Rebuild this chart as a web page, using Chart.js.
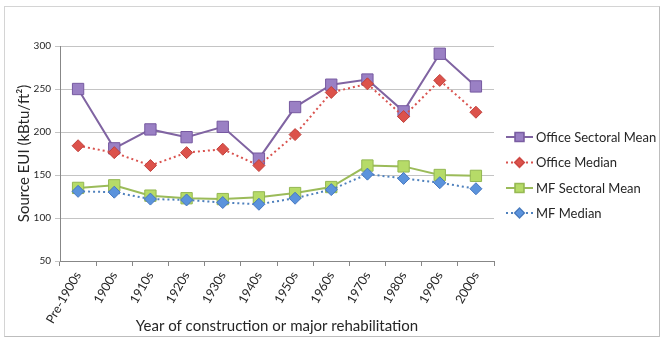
<!DOCTYPE html>
<html>
<head>
<meta charset="utf-8">
<script src="https://cdn.jsdelivr.net/npm/chart.js@4.4.1/dist/chart.umd.min.js"></script>
<style>
  html, body { margin: 0; background: #fff; }
  #wrap { width: 666px; height: 345px; }
</style>
</head>
<body>
<div id="wrap"><canvas id="eui"></canvas></div>
<script>
const decades = ['Pre-1900s', '1900s', '1910s', '1920s', '1930s', '1940s', '1950s', '1960s', '1970s', '1980s', '1990s', '2000s'];
const officeMean = [250, 181, 203, 194, 206, 169, 229, 255, 261, 224, 291, 253];
const officeMedian = [184, 176, 161, 176, 180, 161, 197, 246, 256, 218, 260, 223];
const mfMean = [135, 138, 126, 123, 122, 124, 129, 136, 161, 160, 150, 149];
const mfMedian = [131, 130, 122, 121, 118, 116, 123, 133, 151, 146, 141, 134];
const yTicks = [50, 100, 150, 200, 250, 300];

const FONT = "Lato, 'Open Sans', sans-serif";
const TEXT = '#262626';

function series(label, data, line, fill, edge, style, radius, dashed, order) {
  return {
    label,
    data,
    order,
    borderColor: line,
    backgroundColor: fill,
    borderWidth: 2,
    borderDash: dashed ? [2, 3] : [],
    pointStyle: style,
    pointRadius: radius,
    pointHoverRadius: radius,
    pointBackgroundColor: fill,
    pointBorderColor: edge,
    pointBorderWidth: 1,
    tension: 0,
    fill: false,
  };
}

// outer frame around the whole chart
const framePlugin = {
  id: 'frame',
  beforeDraw(chart) {
    const ctx = chart.ctx;
    ctx.save();
    ctx.strokeStyle = '#d4d4d4';
    ctx.lineWidth = 1;
    ctx.strokeRect(4.5, 6.5, 655, 330);
    ctx.strokeStyle = '#bdbdbd';
    ctx.beginPath();
    ctx.moveTo(659.5, 6.5);
    ctx.lineTo(659.5, 336.5);
    ctx.lineTo(4.5, 336.5);
    ctx.stroke();
    ctx.restore();
  },
};

// legend with a line sample through each marker
const sideLegend = {
  id: 'sideLegend',
  afterDraw(chart) {
    const ctx = chart.ctx;
    const x0 = 506, x1 = 533, tx = 536;
    const rows = [137, 162.5, 188, 213];
    const ordered = [0, 1, 2, 3].map((i) => chart.data.datasets[i]);
    ctx.save();
    ordered.forEach((ds, i) => {
      const y = rows[i];
      ctx.strokeStyle = ds.borderColor;
      ctx.lineWidth = 2;
      ctx.setLineDash(ds.borderDash);
      ctx.beginPath();
      ctx.moveTo(x0, y);
      ctx.lineTo(x1, y);
      ctx.stroke();
      ctx.setLineDash([]);
      Chart.helpers.drawPoint(ctx, {
        pointStyle: ds.pointStyle,
        radius: ds.pointStyle === 'rect' ? 6 : 4.5,
        borderWidth: 1,
      }, (x0 + x1) / 2, y);
      ctx.fillStyle = ds.pointBackgroundColor;
      ctx.strokeStyle = ds.pointBorderColor;
      ctx.lineWidth = 1;
      ctx.fill();
      ctx.stroke();
      ctx.fillStyle = TEXT;
      ctx.font = `13px ${FONT}`;
      ctx.textBaseline = 'middle';
      ctx.fillText(ds.label, tx, y + 0.5);
    });
    ctx.restore();
  },
};

new Chart(document.getElementById('eui'), {
  type: 'line',
  data: {
    labels: decades,
    datasets: [
      series('Office Sectoral Mean', officeMean, '#8064a2', '#9a80c4', '#7659a0', 'rect', 8, false, 2),
      series('Office Median', officeMedian, '#d9534f', '#dc524b', '#c0403b', 'rectRot', 6, true, 1),
      series('MF Sectoral Mean', mfMean, '#9bbb59', '#b6db68', '#93b752', 'rect', 8, false, 2),
      series('MF Median', mfMedian, '#4f81bd', '#5b93dc', '#4677c0', 'rectRot', 6, true, 1),
    ],
  },
  options: {
    responsive: true,
    maintainAspectRatio: false,
    animation: false,
    layout: { padding: { top: 46, right: 172, bottom: 10, left: 0 } },
    plugins: {
      legend: { display: false },
      tooltip: { enabled: false },
    },
    scales: {
      x: {
        offset: true,
        grid: { offset: true, drawOnChartArea: false, tickLength: 5, color: '#878787' },
        border: { color: '#878787' },
        ticks: {
          color: TEXT,
          font: { family: FONT, size: 12.5 },
          minRotation: 60,
          maxRotation: 60,
          padding: 3,
          autoSkip: false,
        },
        title: {
          display: true,
          text: 'Year of construction or major rehabilitation',
          color: TEXT,
          font: { family: FONT, size: 15 },
          padding: { top: 0, bottom: 0 },
        },
        afterFit(scale) { scale.height = 74; },
      },
      y: {
        min: 50,
        max: 300,
        afterBuildTicks(scale) { scale.ticks = yTicks.map((value) => ({ value })); },
        grid: { color: '#c4c4c4', tickLength: 5, lineWidth: 1 },
        border: { color: '#878787' },
        ticks: {
          color: TEXT,
          font: { family: FONT, size: 10 },
          padding: 4,
        },
        title: {
          display: true,
          text: 'Source EUI (kBtu/ft\u00b2)',
          color: TEXT,
          font: { family: FONT, size: 15 },
          padding: { top: 15, bottom: 0 },
        },
        afterFit(scale) { scale.width = 60; },
      },
    },
  },
  plugins: [framePlugin, sideLegend],
});
</script>
</body>
</html>
